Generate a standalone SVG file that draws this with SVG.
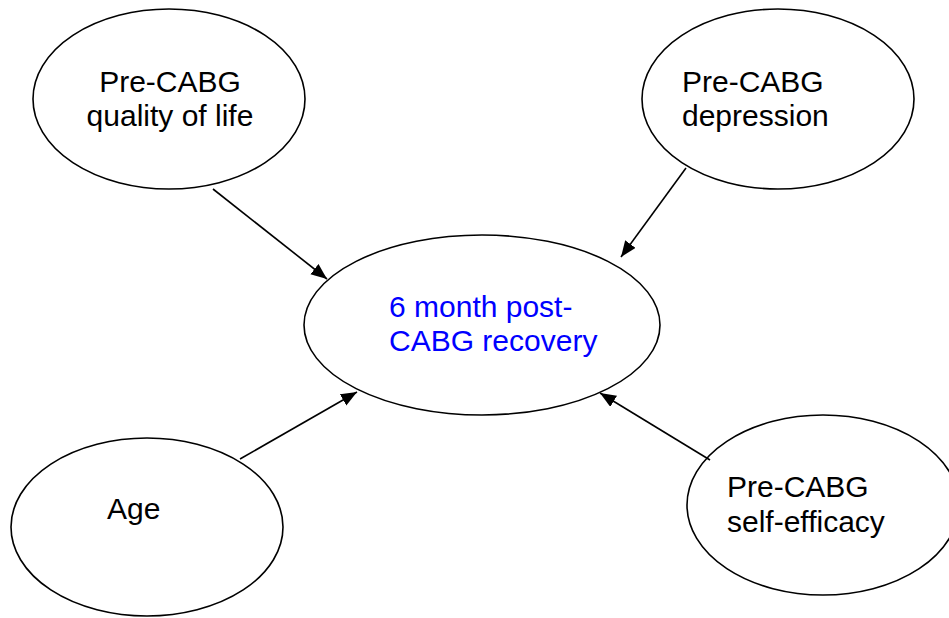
<svg xmlns="http://www.w3.org/2000/svg" width="949" height="618" viewBox="0 0 949 618">
  <style>
    .node ellipse { fill: #ffffff; stroke: #000000; stroke-width: 1.6; }
    .label { font-family: "Liberation Sans", Arial, sans-serif; font-size: 30px; fill: #000000; }
    .label.outcome { fill: #0000ff; }
    .edge { stroke: #000000; stroke-width: 1.6; fill: none; marker-end: url(#arrow); }
  </style>
  <defs>
    <marker id="arrow" markerUnits="userSpaceOnUse" markerWidth="18" markerHeight="14" refX="16" refY="6.5" orient="auto">
      <path d="M0,0 L16,6.5 L0,13 z" fill="#000000"/>
    </marker>
  </defs>
  <rect width="949" height="618" fill="#ffffff"/>

  <g id="node-qol" class="node">
    <ellipse cx="169" cy="99" rx="136" ry="90"/>
    <text class="label" x="170" y="91.5" text-anchor="middle">Pre-CABG</text>
    <text class="label" x="170" y="125.5" text-anchor="middle">quality of life</text>
  </g>

  <g id="node-depression" class="node">
    <ellipse cx="778" cy="99" rx="136" ry="90"/>
    <text class="label" x="682" y="91.5">Pre-CABG</text>
    <text class="label" x="682" y="125.5">depression</text>
  </g>

  <g id="node-recovery" class="node">
    <ellipse cx="482" cy="325" rx="178" ry="90"/>
    <text class="label outcome" x="389" y="317">6 month post-</text>
    <text class="label outcome" x="389" y="351">CABG recovery</text>
  </g>

  <g id="node-age" class="node">
    <ellipse cx="147" cy="527" rx="136" ry="89"/>
    <text class="label" x="107" y="518.5">Age</text>
  </g>

  <g id="node-selfefficacy" class="node">
    <ellipse cx="823" cy="505" rx="136" ry="90"/>
    <text class="label" x="727" y="497">Pre-CABG</text>
    <text class="label" x="727" y="532">self-efficacy</text>
  </g>

  <g id="connectors">
    <line class="edge" x1="213" y1="189" x2="327" y2="279"/>
    <line class="edge" x1="686" y1="168" x2="621" y2="257"/>
    <line class="edge" x1="240" y1="459" x2="357" y2="392"/>
    <line class="edge" x1="710" y1="460" x2="600" y2="393"/>
  </g>
</svg>
